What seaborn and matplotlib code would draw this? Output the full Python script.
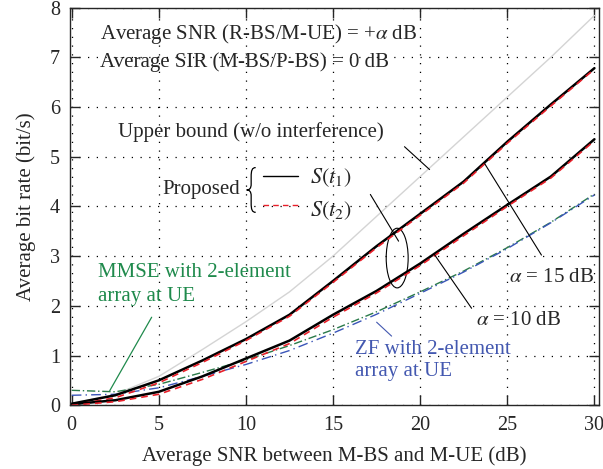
import numpy as np
import pandas as pd
import matplotlib
matplotlib.use('Agg')
import matplotlib.pyplot as plt
from matplotlib.patches import Ellipse, PathPatch
from matplotlib.path import Path
import seaborn as sns

# Dados
snr = [0, 2.5, 5, 7.5, 10, 12.5, 15, 17.5, 20, 22.5, 25, 27.5, 30]
upper_bound = [0.03, 0.22, 0.58, 1.12, 1.68, 2.28, 3.0, 3.8, 4.6, 5.4, 6.2, 7.0, 7.84]
a15_t1 = [0.03, 0.2, 0.5, 0.9, 1.33, 1.82, 2.5, 3.2, 3.85, 4.5, 5.3, 6.05, 6.78]
a15_t2 = [0.0, 0.15, 0.45, 0.86, 1.3, 1.79, 2.47, 3.17, 3.82, 4.47, 5.27, 6.02, 6.76]
a10_t1 = [0.02, 0.1, 0.27, 0.58, 0.94, 1.3, 1.82, 2.3, 2.85, 3.45, 4.03, 4.6, 5.35]
a10_t2 = [0.0, 0.07, 0.22, 0.52, 0.88, 1.24, 1.77, 2.26, 2.81, 3.41, 4.0, 4.57, 5.32]
zf = [0.2, 0.22, 0.35, 0.58, 0.82, 1.1, 1.45, 1.83, 2.25, 2.68, 3.15, 3.67, 4.23]
mmse = [0.3, 0.27, 0.42, 0.66, 0.91, 1.2, 1.52, 1.88, 2.28, 2.7, 3.17, 3.68, 4.25]

df = pd.DataFrame({'snr': snr, 'ub': upper_bound, 'a15_t1': a15_t1, 'a15_t2': a15_t2,
                   'a10_t1': a10_t1, 'a10_t2': a10_t2, 'zf': zf, 'mmse': mmse})

sns.set_style('ticks')
plt.rcParams['font.family'] = ['Liberation Serif', 'DejaVu Serif']
plt.rcParams['mathtext.fontset'] = 'stix'

fig = plt.figure(figsize=(6.03, 4.69), dpi=100)
ax = fig.add_axes([0.116, 0.136, 0.877, 0.848])

green = '#1f8a4c'
blue = '#4358b0'
red = '#e8202a'

sns.lineplot(data=df, x='snr', y='ub', ax=ax, color='#d4d4d4', linewidth=1.0)
sns.lineplot(data=df, x='snr', y='mmse', ax=ax, color='#2a7a4a', linewidth=1.0)
ax.lines[-1].set_dashes((6, 2, 1, 2))
sns.lineplot(data=df, x='snr', y='zf', ax=ax, color='#3a55b8', linewidth=1.0)
ax.lines[-1].set_dashes((7, 3, 1, 3))
for c1, c2 in [('a15_t1', 'a15_t2'), ('a10_t1', 'a10_t2')]:
    sns.lineplot(data=df, x='snr', y=c1, ax=ax, color='black', linewidth=1.8)
    sns.lineplot(data=df, x='snr', y=c2, ax=ax, color=red, linewidth=1.2)
    ax.lines[-1].set_dashes((4, 3))

ax.set_xlim(-0.1, 30.25)
ax.set_ylim(0, 8)
ax.set_xticks([0, 5, 10, 15, 20, 25, 30])
ax.set_yticks(range(9))
ax.grid(True, color='black', linestyle=(0, (1, 6)), linewidth=0.9)
ax.tick_params(direction='in', top=True, right=True, length=7, width=1.0, labelsize=14.5)
ax.tick_params(axis='x', pad=8)
ax.tick_params(axis='y', pad=7)
for s in ax.spines.values():
    s.set_linewidth(1.0)
ax.set_xlabel('Average SNR between M-BS and M-UE (dB)', fontsize=15, labelpad=8)
ax.set_ylabel('Average bit rate (bit/s)', fontsize=15, labelpad=10)

fs = 15
ax.text(1.6, 7.47, r'Average SNR (R-BS/M-UE) = +$\alpha$ dB', fontsize=fs, va='center')
ax.text(1.6, 6.91, 'Average SIR (M-BS/P-BS) = 0 dB', fontsize=fs, va='center')
ax.text(2.64, 5.5, 'Upper bound (w/o interference)', fontsize=fs, va='center')
ax.plot([19.1, 20.54], [5.2, 4.74], color='black', linewidth=0.8)

ax.text(5.2, 4.34, 'Proposed', fontsize=fs, va='center')
# chave "{" desenhada como curva
brace = Path([(10.56, 4.78), (10.35, 4.78), (10.3, 4.72), (10.3, 4.6),
              (10.3, 4.45),
              (10.3, 4.36), (10.2, 4.33), (10.04, 4.33),
              (10.2, 4.33), (10.3, 4.30), (10.3, 4.21),
              (10.3, 4.06),
              (10.3, 3.94), (10.35, 3.88), (10.56, 3.88)],
             [Path.MOVETO, Path.CURVE4, Path.CURVE4, Path.CURVE4,
              Path.LINETO,
              Path.CURVE4, Path.CURVE4, Path.CURVE4,
              Path.CURVE4, Path.CURVE4, Path.CURVE4,
              Path.LINETO,
              Path.CURVE4, Path.CURVE4, Path.CURVE4])
ax.add_patch(PathPatch(brace, fill=False, edgecolor='black', linewidth=0.9))
ax.plot([11.0, 13.0], [4.62, 4.62], color='black', linewidth=1.0)
ax.plot([11.0, 13.0], [4.02, 4.02], color=red, linewidth=1.0, dashes=(4, 3))
ax.text(13.65, 4.58, r'$S(t_1)$', fontsize=fs + 1, va='center')
ax.text(13.65, 3.92, r'$S(t_2)$', fontsize=fs + 1, va='center')

ax.add_patch(Ellipse((18.68, 2.96), 1.26, 1.2, fill=False, edgecolor='black', linewidth=0.8))
ax.plot([17.14, 18.76], [4.24, 3.3], color='black', linewidth=0.8)

ax.text(25.1, 2.57, r'$\alpha$ = 15 dB', fontsize=fs, va='center')
ax.plot([23.7, 26.96], [4.86, 3.02], color='black', linewidth=0.8)
ax.text(23.2, 1.71, r'$\alpha$ = 10 dB', fontsize=fs, va='center')
ax.plot([20.8, 22.95], [3.04, 1.95], color='black', linewidth=0.8)

ax.text(16.24, 1.13, 'ZF with 2-element', fontsize=fs, va='center', color=blue)
ax.text(16.24, 0.67, 'array at UE', fontsize=fs, va='center', color=blue)
ax.plot([17.5, 18.36], [1.67, 1.39], color=blue, linewidth=0.8)

ax.text(1.49, 2.67, 'MMSE with 2-element', fontsize=fs, va='center', color=green)
ax.text(1.49, 2.19, 'array at UE', fontsize=fs, va='center', color=green)
ax.plot([4.59, 2.18], [1.77, 0.29], color=green, linewidth=0.9)

fig.savefig('out.png', dpi=100)
